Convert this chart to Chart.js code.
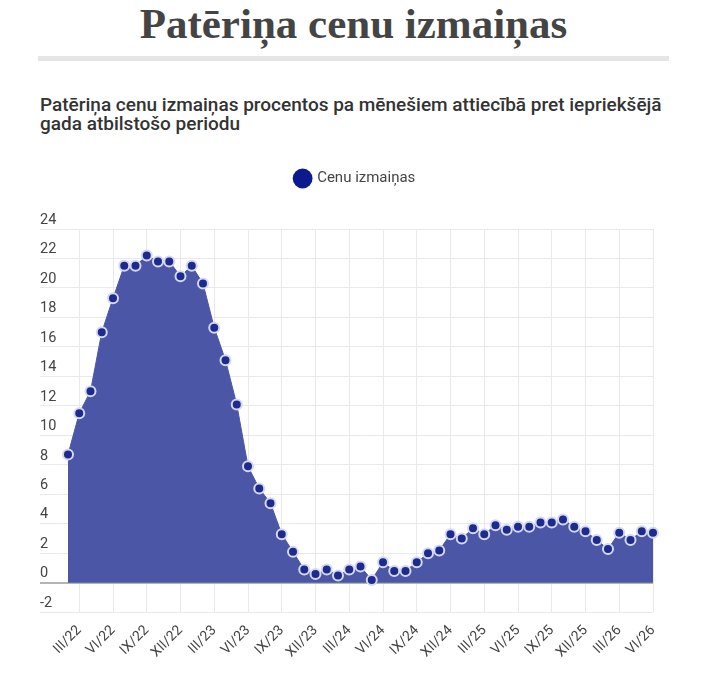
<!DOCTYPE html>
<html lang="lv">
<head>
<meta charset="utf-8">
<title>Patēriņa cenu izmaiņas</title>
<script src="https://cdn.jsdelivr.net/npm/chart.js@4/dist/chart.umd.min.js"></script>
<style>
  html, body { margin: 0; padding: 0; background: #fff; }
  body { width: 707px; height: 677px; position: relative; overflow: hidden; font-family: Roboto, sans-serif; }
  h1 {
    position: absolute; left: 0; top: 1px; width: 707px; margin: 0;
    text-align: center; font-family: "Liberation Serif", serif; font-weight: bold;
    font-size: 43px; line-height: 46px; color: #444;
  }
  .rule { position: absolute; left: 38px; top: 56px; width: 631px; height: 5px; background: #e5e5e5; }
  h2 {
    position: absolute; left: 40px; top: 95px; margin: 0;
    font-size: 19px; font-weight: 500; line-height: 19px; color: #333;
  }
  .chart-box { position: absolute; left: 0; top: 135px; width: 707px; height: 542px; }
</style>
</head>
<body>
<h1>Patēriņa cenu izmaiņas</h1>
<div class="rule"></div>
<h2>Patēriņa cenu izmaiņas procentos pa mēnešiem attiecībā pret iepriekšējā<br>gada atbilstošo periodu</h2>
<div class="chart-box"><canvas id="cpiChart"></canvas></div>
<script>
// mēneši no II/22 līdz VI/26
const months = ['I', 'II', 'III', 'IV', 'V', 'VI', 'VII', 'VIII', 'IX', 'X', 'XI', 'XII'];
const labels = [];
for (let y = 22; y <= 26; y++) {
  for (let m = 0; m < 12; m++) {
    if (y === 22 && m < 1) continue;
    if (y === 26 && m > 5) break;
    labels.push(months[m] + '/' + y);
  }
}

const priceChange = [
  8.7, 11.5, 13.0, 17.0, 19.3, 21.5, 21.5, 22.2, 21.8, 21.8, 20.8,
  21.5, 20.3, 17.3, 15.1, 12.1, 7.9, 6.4, 5.4, 3.3, 2.1, 0.9, 0.6,
  0.9, 0.5, 0.9, 1.1, 0.2, 1.4, 0.8, 0.8, 1.4, 2.0, 2.2, 3.3,
  3.0, 3.7, 3.3, 3.9, 3.6, 3.8, 3.8, 4.1, 4.1, 4.3, 3.8, 3.5,
  2.9, 2.3, 3.4, 2.9, 3.5, 3.4
];

const yTicks = [-2, 0, 2, 4, 6, 8, 10, 12, 14, 16, 18, 20, 22, 24];

// rādām tikai III, VI, IX, XII
const shownTick = (i) => /^(III|VI|IX|XII)\//.test(labels[i]);

// atstarpe zem leģendas + leģenda lapas vidū
const legendGap = {
  id: 'legendGap',
  beforeInit(chart) {
    const fit = chart.legend.fit;
    chart.legend.fit = function () {
      fit.bind(chart.legend)();
      this.height += 33;
    };
  },
  afterLayout(chart) {
    chart.legend.left += 9;
    chart.legend.right += 9;
  },
};

const chart = new Chart(document.getElementById('cpiChart'), {
  type: 'line',
  data: {
    labels: labels,
    datasets: [{
      label: 'Cenu izmaiņas',
      data: priceChange,
      fill: 'origin',
      backgroundColor: '#4b56a6',
      borderColor: '#4b56a6',
      borderWidth: 1,
      tension: 0,
      pointRadius: 5,
      pointHoverRadius: 6,
      pointBackgroundColor: '#1d2a8e',
      pointBorderColor: '#d4d8f2',
      pointBorderWidth: 2,
    }],
  },
  plugins: [legendGap],
  options: {
    responsive: true,
    maintainAspectRatio: false,
    animation: false,
    layout: { padding: { left: 40, right: 54, top: 0, bottom: 6 } },
    plugins: {
      tooltip: { enabled: false },
      legend: {
        position: 'top',
        labels: {
          usePointStyle: true,
          pointStyle: 'circle',
          boxWidth: 14,
          boxHeight: 14,
          color: '#444',
          font: { family: 'Roboto', size: 15 },
          padding: 36,
          generateLabels(c) {
            const items = Chart.defaults.plugins.legend.labels.generateLabels(c);
            items.forEach(it => { it.fillStyle = '#0b1a8c'; it.strokeStyle = '#0b1a8c'; it.lineWidth = 0; });
            return items;
          },
        },
      },
    },
    scales: {
      x: {
        offset: false,
        border: { display: false },
        grid: {
          drawTicks: false,
          color: (ctx) => shownTick(ctx.index) ? '#e9e9e9' : 'rgba(0,0,0,0)',
        },
        ticks: {
          autoSkip: false,
          maxRotation: 45,
          minRotation: 45,
          padding: 10,
          color: '#444',
          font: { family: 'Roboto', size: 14 },
          callback: (val, i) => shownTick(i) ? labels[i] : '',
        },
      },
      y: {
        min: -2,
        max: 24,
        border: { display: false },
        afterBuildTicks: (scale) => { scale.ticks = yTicks.map(v => ({ value: v })); },
        afterFit: (scale) => { scale.width = 28; },
        grid: {
          tickLength: 28,
          color: (ctx) => ctx.tick && ctx.tick.value === 0 ? '#b4b4b4' : '#e9e9e9',
          lineWidth: (ctx) => ctx.tick && ctx.tick.value === 0 ? 2 : 1,
        },
        ticks: {
          crossAlign: 'far',
          labelOffset: -9,
          padding: 0,
          color: '#444',
          font: { family: 'Roboto', size: 14.5 },
        },
      },
    },
  },
});
</script>
</body>
</html>
